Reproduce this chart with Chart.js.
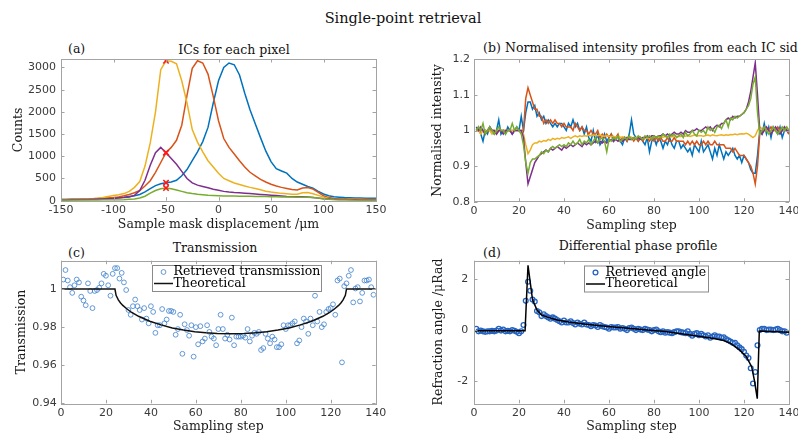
<!DOCTYPE html>
<html>
<head>
<meta charset="utf-8">
<script src="https://cdn.jsdelivr.net/npm/chart.js@4"></script>
<style>
  body { margin: 0; background: #fff; }
  #fig { position: relative; width: 798px; height: 433px; overflow: hidden; background: #fff; }
  #fig canvas { position: absolute; }
  .txt { position: absolute; font-family: "DejaVu Serif", serif; font-size: 12.5px; color: #111; white-space: nowrap; line-height: 1; }
  .c { transform: translate(-50%, -50%); }
  .l { transform: translateY(-50%); }
</style>
</head>
<body>
<div id="fig">
  <div class="txt c" style="left:403px;top:18px;font-size:14.5px">Single-point retrieval</div>
  <div class="txt l" style="left:68px;top:49px">(a)</div>
  <div class="txt c" style="left:234px;top:50px">ICs for each pixel</div>
  <div class="txt l" style="left:483px;top:48px">(b)</div>
  <div class="txt l" style="left:505px;top:48px">Normalised intensity profiles from each IC side</div>
  <div class="txt l" style="left:68px;top:253px">(c)</div>
  <div class="txt c" style="left:215px;top:248px">Transmission</div>
  <div class="txt l" style="left:483px;top:253px">(d)</div>
  <div class="txt c" style="left:638px;top:246px">Differential phase profile</div>

  <canvas id="chA" width="400" height="202" style="left:0;top:30px"></canvas>
  <canvas id="chB" width="398" height="202" style="left:400px;top:30px"></canvas>
  <canvas id="chC" width="400" height="201" style="left:0;top:232px"></canvas>
  <canvas id="chD" width="398" height="201" style="left:400px;top:232px"></canvas>
</div>

<script>
// ---- (a) ICs for each pixel ----
const dispX = [-150,-145,-140,-135,-130,-125,-120,-115,-110,-105,-100,-95,-90,-85,-80,-75,-70,-65,-60,-55,
  -50,-45,-40,-35,-30,-25,-20,-15,-10,-5,0,5,10,15,20,25,30,35,40,45,50,55,60,65,70,75,80,85,90,95,
  100,105,110,115,120,125,130,135,140,145,150];
const blueA = [25,27,30,32,35,38,40,45,50,55, 60,70,80,95,110,140,200,270,340,380,
  405,420,460,560,700,900,1100,1330,1650,2200, 2700,3000,3100,3060,2830,2420,2050,1730,1420,1120,
  880,720,670,620,500,420,370,320,280,210, 150,110,90,80,70,65,60,58,55,55, 55];
const orangeA = [25,27,30,32,35,38,42,48,55,62, 70,85,110,140,180,230,330,450,640,860,
  1080,1200,1360,1700,2370,2980,3150,3100,2850,2350, 1800,1400,1200,1050,900,760,640,560,480,420,
  370,330,300,275,250,240,285,295,260,190, 110,70,50,45,42,40,38,37,36,35, 35];
const yellowA = [20,22,25,28,32,38,45,55,70,95, 115,135,160,210,300,430,780,1300,2000,2950,
  3150,3140,3080,2700,2200,1600,1320,1100,900,760, 620,500,450,400,365,330,300,275,245,215,
  195,180,165,155,145,145,180,185,155,120, 80,50,40,35,30,28,25,25,22,22, 20];
const purpleA = [15,17,20,22,25,28,32,36,40,45, 50,60,70,85,120,230,460,800,1080,1200,
  1080,950,820,660,500,400,350,320,290,260, 235,210,195,185,178,170,160,150,140,132,
  125,115,105,95,90,88,88,85,72,58, 45,38,32,28,25,22,20,18,17,16, 15];
const greenA = [8,8,9,9,10,10,11,12,13,14, 15,18,22,30,40,60,100,170,230,270,
  285,270,240,210,180,160,145,135,125,118, 112,108,105,103,100,99,98,97,95,93,
  90,88,86,85,83,80,78,75,70,60, 45,30,22,18,15,13,12,11,10,10, 10];
const peakX = [-50, -50, -50, -50, -50];
const peakY = [3150, 1080, 405, 1080, 285];
const ticksAX = [-150, -100, -50, 0, 50, 100, 150];
const ticksAY = [0, 500, 1000, 1500, 2000, 2500, 3000];

// ---- (b) normalised intensity, sampling steps 1..140 ----
const blueB = [1.00,1.01,0.99,0.97,1.00,0.99,1.01,1.00,0.99,1.00, 1.03,0.99,1.00,0.99,1.01,1.00,0.99,1.00,1.01,1.00,
  1.04,1.00,1.05,1.08,1.08,1.06,1.07,1.04,1.05,1.03, 1.04,1.02,1.03,1.02,1.01,1.02,1.01,1.02,1.02,1.01,
  1.00,1.02,1.01,1.03,1.01,1.02,1.00,1.01,0.99,1.01, 0.98,0.97,1.00,0.97,0.99,0.96,0.97,0.99,0.97,0.98,
  0.99,0.97,0.98,0.98,0.97,0.96,0.98,0.97,0.99,1.03, 0.99,0.98,0.97,0.98,0.97,0.96,0.98,0.94,0.97,0.98,
  0.96,0.98,0.97,0.95,0.97,0.96,0.98,0.96,0.95,0.97, 0.97,0.95,0.96,0.95,0.94,0.95,0.93,0.96,0.95,0.94,
  0.97,0.94,0.95,0.96,0.94,0.92,0.95,0.93,0.96,0.94, 0.92,0.94,0.93,0.94,0.95,0.93,0.92,0.93,0.91,0.93,
  0.92,0.91,0.89,0.88,0.88,0.93,1.00,0.99,1.02,0.99, 1.01,0.98,1.01,1.00,0.99,1.01,0.98,1.00,1.00,0.99];
const orangeB = [1.00,1.00,1.00,1.00,0.99,1.00,1.00,1.00,1.00,0.99, 1.00,1.00,1.00,1.00,1.00,1.00,1.00,1.00,1.00,1.00,
  1.00,1.00,1.09,1.12,1.10,1.08,1.06,1.06,1.04,1.04, 1.02,1.03,1.02,1.03,1.02,1.03,1.02,1.02,1.01,1.02,
  1.01,1.01,1.01,1.00,1.02,1.01,1.00,1.01,1.00,1.00, 0.99,1.00,0.99,0.99,1.00,0.98,0.99,0.98,0.99,0.98,
  0.99,0.98,0.98,0.99,0.97,0.98,0.98,0.97,0.98,0.98, 0.97,0.98,0.97,0.98,0.97,0.98,0.98,0.97,0.98,0.97,
  0.98,0.97,0.98,0.97,0.97,0.98,0.97,0.97,0.98,0.97, 0.97,0.97,0.97,0.96,0.97,0.96,0.97,0.96,0.97,0.96,
  0.96,0.97,0.96,0.97,0.96,0.96,0.97,0.96,0.96,0.96, 0.96,0.95,0.95,0.95,0.94,0.95,0.94,0.93,0.93,0.93,
  0.92,0.91,0.90,0.88,0.85,0.90,0.99,1.00,1.01,1.00, 1.00,1.01,1.00,1.00,1.01,1.00,1.00,1.01,1.00,0.99];
const yellowB = [1.00,1.00,0.99,1.00,1.00,1.00,1.00,0.99,1.00,1.00, 1.00,1.00,1.00,1.00,1.00,1.00,1.00,1.00,1.00,1.00,
  1.00,0.99,0.96,0.935,0.945,0.96,0.965,0.965,0.97,0.968, 0.972,0.97,0.975,0.972,0.978,0.975,0.978,0.976,0.98,0.978,
  0.98,0.982,0.978,0.982,0.985,0.982,0.985,0.983,0.986,0.984, 0.987,0.985,0.988,0.986,0.985,0.987,0.985,0.984,0.986,0.984,
  0.983,0.984,0.982,0.983,0.981,0.982,0.98,0.981,0.979,0.98, 0.979,0.98,0.978,0.979,0.978,0.979,0.978,0.98,0.979,0.98,
  0.981,0.98,0.982,0.981,0.983,0.982,0.984,0.982,0.985,0.983, 0.984,0.983,0.985,0.984,0.986,0.983,0.985,0.987,0.984,0.986,
  0.985,0.984,0.986,0.987,0.985,0.988,0.986,0.985,0.987,0.988, 0.986,0.988,0.987,0.989,0.988,0.99,0.988,0.99,0.991,0.99,
  0.992,0.99,0.985,0.98,0.985,1.00,1.01,1.005,1.00,1.00, 1.00,1.00,1.005,1.00,1.00,1.00,1.00,1.005,1.00,1.00];
const purpleB = [1.01,1.00,1.01,1.00,0.99,1.00,1.01,1.00,1.00,0.99, 1.00,1.00,0.99,1.00,1.00,1.00,0.99,1.00,1.00,1.00,
  1.00,0.98,0.91,0.85,0.87,0.89,0.91,0.92,0.93,0.935, 0.94,0.945,0.94,0.95,0.945,0.95,0.955,0.95,0.945,0.955,
  0.95,0.955,0.96,0.955,0.96,0.965,0.96,0.955,0.965,0.96, 0.965,0.96,0.965,0.97,0.965,0.97,0.965,0.97,0.965,0.97,
  0.975,0.97,0.975,0.97,0.975,0.97,0.975,0.98,0.975,0.975, 0.98,0.975,0.98,0.975,0.98,0.98,0.985,0.98,0.985,0.985,
  0.98,0.985,0.985,0.99,0.985,0.99,0.985,0.99,0.995,0.99, 0.99,0.995,0.99,1.00,0.995,0.995,1.00,1.00,1.005,1.00,
  1.00,1.005,1.01,1.005,1.01,1.00,1.01,1.015,1.01,1.02, 1.02,1.03,1.035,1.03,1.04,1.035,1.04,1.04,1.045,1.05,
  1.06,1.08,1.11,1.15,1.19,1.10,1.00,0.99,1.00,1.01, 1.00,0.99,1.00,1.01,1.00,0.99,1.00,1.01,1.00,1.00];
const greenB = [1.00,1.01,1.00,1.02,0.99,1.00,1.01,1.00,0.99,1.00, 1.01,1.00,1.00,0.99,1.00,1.00,1.02,1.00,1.01,1.00,
  0.99,0.96,0.91,0.88,0.91,0.92,0.92,0.925,0.93,0.94, 0.935,0.945,0.94,0.95,0.955,0.95,0.955,0.96,0.955,0.96,
  0.955,0.965,0.96,0.97,0.96,0.965,0.975,0.96,0.97,0.965, 0.975,0.96,0.97,0.98,0.965,0.975,0.98,0.97,0.94,0.975,
  0.97,0.98,0.975,0.985,0.97,0.975,0.98,0.975,0.985,0.975, 0.98,0.975,0.985,0.98,0.975,0.985,0.98,0.985,0.975,0.985,
  0.98,0.985,0.98,0.99,0.985,0.98,0.99,0.985,0.99,0.98, 0.985,0.99,0.98,0.995,0.985,0.99,1.00,0.99,0.985,1.00,
  0.995,1.00,0.99,1.01,1.00,1.005,0.995,1.01,1.015,1.005, 1.02,1.03,1.01,1.035,1.03,1.04,1.035,1.04,1.045,1.05,
  1.06,1.07,1.09,1.13,1.15,1.05,0.99,1.00,1.01,1.00, 0.99,1.00,1.01,1.00,0.99,1.00,1.01,1.00,1.01,1.00];
const ticksStep = [0, 20, 40, 60, 80, 100, 120, 140];
const ticksBY = [0.8, 0.9, 1, 1.1, 1.2];

// ---- (c) transmission, sampling steps 1..139 ----
const transMeas = [1.005,1.010,1.0045,1.001,0.998,1.002,1.005,1.0035,0.996,0.994,
  0.9915,1.003,0.999,0.990,0.999,0.9995,1.0007,1.003,1.008,1.007,
  1.002,0.9965,1.008,1.011,1.011,1.0055,1.0085,1.0035,0.9995,0.989,
  0.9865,0.991,0.9945,0.991,0.989,0.984,0.990,0.9845,0.982,0.991,
  0.988,0.977,0.981,0.981,0.9895,0.982,0.984,0.9885,0.9885,0.988,
  0.976,0.979,0.9865,0.966,0.9815,0.9785,0.9755,0.981,0.9645,0.980,
  0.971,0.9805,0.9725,0.974,0.981,0.9775,0.975,0.974,0.9705,0.979,
  0.9865,0.979,0.974,0.976,0.9735,0.985,0.9705,0.975,0.975,0.975,
  0.9755,0.9745,0.979,0.9725,0.9755,0.977,0.9765,0.9775,0.968,0.969,
  0.9765,0.974,0.9715,0.975,0.9735,0.9695,0.9695,0.971,0.981,0.979,
  0.981,0.981,0.982,0.983,0.9715,0.973,0.980,0.9845,0.983,0.9765,
  0.9845,0.981,0.9965,0.983,0.988,0.980,0.9815,0.988,0.9895,0.990,
  0.992,0.9865,1.0045,1.0055,0.9615,1.0015,1.003,1.007,1.010,0.993,
  1.0003,1.001,0.9935,0.998,1.0045,1.0045,1.005,1.001,0.997];
const transThX = [0,24,24.5,25.5,26.5,27.5,29.5,31.5,34.5,39.5,44.5,49.5,54.5,59.5,64.5,69.5,75.5,
  81.5,86.5,91.5,96.5,101.5,106.5,111.5,116.5,119.5,121.5,123.5,124.5,125.5,126.5,127,140];
const transThY = [1,1,0.9967,0.9943,0.9927,0.9914,0.9894,0.9877,0.9857,0.9831,0.9812,0.9796,0.9785,0.9776,0.977,0.9766,0.9765,
  0.9766,0.977,0.9776,0.9785,0.9796,0.9812,0.9831,0.9857,0.9877,0.9894,0.9914,0.9927,0.9943,0.9967,1,1];
const ticksCY = [0.94, 0.96, 0.98, 1];

// ---- (d) differential phase, sampling steps 1..139 ----
const angleMeas = [0.05,-0.05,-0.02,-0.05,-0.07,-0.05,-0.05,-0.03,-0.05,-0.02,
  0.05,-0.02,0.02,-0.05,-0.03,-0.05,0.0,-0.03,-0.07,-0.12,
  -0.05,0.2,1.15,1.9,1.55,1.2,1.12,0.75,0.7,0.55,
  0.62,0.55,0.5,0.45,0.5,0.45,0.4,0.35,0.3,0.38,
  0.3,0.3,0.35,0.28,0.22,0.3,0.25,0.22,0.3,0.22,
  0.2,0.15,0.2,0.18,0.12,0.2,0.15,0.12,0.1,0.05,
  0.12,0.1,0.1,0.12,0.05,0.08,0.05,0.0,0.08,0.1,
  0.05,0.0,0.05,0.02,0.0,0.05,0.02,0.0,-0.05,0.0,
  0.02,-0.05,-0.08,-0.05,-0.1,-0.08,-0.1,-0.12,-0.08,-0.05,
  -0.05,-0.08,-0.1,-0.12,-0.05,-0.15,-0.22,-0.15,-0.12,-0.2,
  -0.15,-0.2,-0.25,-0.2,-0.3,-0.25,-0.2,-0.25,-0.25,-0.3,
  -0.28,-0.35,-0.4,-0.45,-0.5,-0.5,-0.6,-0.68,-0.75,-0.85,
  -1.0,-1.1,-1.5,-2.1,-1.65,-0.6,0.0,0.05,0.05,0.0,
  0.02,0.02,0.0,0.02,0.05,0.0,-0.05,-0.05,-0.1];
const angleThX = [0,22.7,24,26,28,30,33,37,42,48,55,62,70,77,85,96,106,111,114,118,121,123.4,124.6,125.9,126.8,140];
const angleThY = [-0.03,-0.03,2.55,1.2,0.79,0.6,0.5,0.4,0.32,0.25,0.18,0.12,0.06,0.0,-0.06,-0.19,-0.32,-0.41,-0.52,-0.78,-1.04,-1.44,-1.97,-2.7,-0.04,-0.08];
const ticksDY = [-2, 0, 2];

// ---- helpers ----
const C = { blue: '#0072BD', orange: '#D95319', yellow: '#EDB120', purple: '#7E2F8E', green: '#77AC30' };
const frameColor = '#a3a3a3';
const tickColor = '#3a3a3a';
const serif = '"DejaVu Serif", serif';

Chart.defaults.font.family = '"DejaVu Sans", sans-serif';
Chart.defaults.font.size = 11;
Chart.defaults.color = tickColor;
Chart.defaults.animation = false;

const xy = (xs, ys) => ys.map((y, i) => ({ x: xs[i], y }));
const stepsOf = arr => arr.map((_, i) => i + 1);

// MATLAB-like box with inward ticks on all four sides
const matlabBox = {
  id: 'matlabBox',
  afterDatasetsDraw(chart) {
    const { ctx, chartArea: a, scales: { x, y } } = chart;
    const L = 3.5;
    ctx.save();
    ctx.strokeStyle = frameColor;
    ctx.lineWidth = 1;
    ctx.beginPath();
    x.ticks.forEach(t => {
      const p = Math.round(x.getPixelForValue(t.value)) + 0.5;
      ctx.moveTo(p, a.bottom); ctx.lineTo(p, a.bottom - L);
      ctx.moveTo(p, a.top); ctx.lineTo(p, a.top + L);
    });
    y.ticks.forEach(t => {
      const p = Math.round(y.getPixelForValue(t.value)) + 0.5;
      ctx.moveTo(a.left, p); ctx.lineTo(a.left + L, p);
      ctx.moveTo(a.right, p); ctx.lineTo(a.right - L, p);
    });
    ctx.stroke();
    ctx.strokeRect(Math.round(a.left) + 0.5, Math.round(a.top) + 0.5,
      Math.round(a.right - a.left), Math.round(a.bottom - a.top));
    ctx.restore();
  }
};

// boxed legend inside the plot (c, d)
const boxLegend = {
  id: 'boxLegend',
  afterDraw(chart, args, o) {
    if (!o || !o.box) return;
    const { ctx } = chart;
    const [bx, by, bw, bh] = o.box;
    ctx.save();
    ctx.fillStyle = '#fff';
    ctx.fillRect(bx, by, bw, bh);
    ctx.strokeStyle = '#8a8a8a';
    ctx.lineWidth = 1;
    ctx.strokeRect(bx + 0.5, by + 0.5, bw, bh);
    ctx.font = o.font;
    ctx.textBaseline = 'middle';
    chart.data.datasets.forEach((ds, i) => {
      const cy = by + o.rows[i];
      if (ds.showLine === false) {
        ctx.beginPath();
        ctx.strokeStyle = ds.borderColor;
        ctx.lineWidth = ds.borderWidth;
        ctx.arc(bx + 11.5, cy, ds.pointRadius, 0, Math.PI * 2);
        ctx.stroke();
      } else {
        ctx.beginPath();
        ctx.strokeStyle = ds.borderColor;
        ctx.lineWidth = ds.borderWidth;
        ctx.moveTo(bx + 2, cy); ctx.lineTo(bx + 21, cy);
        ctx.stroke();
      }
      ctx.fillStyle = '#000';
      ctx.fillText(ds.label, bx + 21.5, cy);
    });
    ctx.restore();
  }
};

function axes(o) {
  const titleFont = { family: serif, size: 12.5, lineHeight: 1 };
  return {
    x: {
      type: 'linear', min: o.xMin, max: o.xMax,
      grid: { display: false, drawTicks: false }, border: { display: false },
      ticks: { padding: 3, autoSkip: false, maxRotation: 0, callback: v => String(v) },
      afterBuildTicks: s => { s.ticks = o.xTicks.map(v => ({ value: v })); },
      afterFit: s => { s.height = o.xH; s.paddingLeft = 0; s.paddingRight = 0; },
      title: { display: true, text: o.xTitle, font: titleFont, color: '#1a1a1a', padding: { top: 0, bottom: o.xTitlePad } }
    },
    y: {
      type: 'linear', min: o.yMin, max: o.yMax,
      grid: { display: false, drawTicks: false }, border: { display: false },
      ticks: { padding: o.yPad, autoSkip: false, callback: v => String(v) },
      afterBuildTicks: s => { s.ticks = o.yTicks.map(v => ({ value: v })); },
      afterFit: s => { s.width = o.yW; s.paddingTop = 0; s.paddingBottom = 0; },
      title: { display: true, text: o.yTitle, font: titleFont, color: '#1a1a1a', padding: { top: o.yTitlePad, bottom: 0 } }
    }
  };
}

const lineDs = (label, data, color, order) => ({
  label, data, borderColor: color, backgroundColor: color, borderWidth: 1.5,
  showLine: true, pointRadius: 0, fill: false, order
});

function baseOptions(pad, scales, extra) {
  return {
    responsive: false,
    layout: { padding: { left: 0, top: pad.top, right: pad.right, bottom: 0 } },
    plugins: Object.assign({ legend: { display: false }, tooltip: { enabled: false } }, extra || {}),
    scales
  };
}

// (a)
new Chart(document.getElementById('chA'), {
  type: 'scatter',
  data: {
    datasets: [
      { label: 'peak', data: xy(peakX, peakY), pointStyle: 'crossRot', pointRadius: 3.8,
        borderColor: '#ff1a1a', borderWidth: 1.6, showLine: false, order: 0 },
      lineDs('IC 5', xy(dispX, greenA), C.green, 1),
      lineDs('IC 4', xy(dispX, purpleA), C.purple, 2),
      lineDs('IC 3', xy(dispX, yellowA), C.yellow, 3),
      lineDs('IC 2', xy(dispX, orangeA), C.orange, 4),
      lineDs('IC 1', xy(dispX, blueA), C.blue, 5)
    ]
  },
  options: baseOptions({ top: 29, right: 24 }, axes({
    xMin: -150, xMax: 150, xTicks: ticksAX, xH: 31.3, xTitle: 'Sample mask displacement /\u03bcm', xTitlePad: 1.5,
    yMin: 0, yMax: 3190, yTicks: ticksAY, yW: 61, yPad: 5, yTitle: 'Counts', yTitlePad: 12.5
  })),
  plugins: [matlabBox]
});

// (b)
const stepsB = stepsOf(blueB);
new Chart(document.getElementById('chB'), {
  type: 'scatter',
  data: {
    datasets: [
      lineDs('IC 5', xy(stepsB, greenB), C.green, 1),
      lineDs('IC 4', xy(stepsB, purpleB), C.purple, 2),
      lineDs('IC 3', xy(stepsB, yellowB), C.yellow, 3),
      lineDs('IC 2', xy(stepsB, orangeB), C.orange, 4),
      lineDs('IC 1', xy(stepsB, blueB), C.blue, 5)
    ]
  },
  options: baseOptions({ top: 29.3, right: 9 }, axes({
    xMin: 0, xMax: 140, xTicks: ticksStep, xH: 30.3, xTitle: 'Sampling step', xTitlePad: 0.5,
    yMin: 0.8, yMax: 1.2, yTicks: ticksBY, yW: 74, yPad: 4, yTitle: 'Normalised intensity', yTitlePad: 31.5
  })),
  plugins: [matlabBox]
});

// (c)
new Chart(document.getElementById('chC'), {
  type: 'scatter',
  data: {
    datasets: [
      { label: 'Retrieved transmission', data: xy(stepsOf(transMeas), transMeas), showLine: false,
        pointStyle: 'circle', pointRadius: 2.4, borderColor: '#3f80cc', backgroundColor: 'rgba(0,0,0,0)', borderWidth: 0.8 },
      lineDs('Theoretical', xy(transThX, transThY), '#111', -1)
    ]
  },
  options: baseOptions({ top: 28.7, right: 24.3 }, axes({
    xMin: 0, xMax: 140, xTicks: ticksStep, xH: 29.7, xTitle: 'Sampling step', xTitlePad: 0,
    yMin: 0.94, yMax: 1.0149, yTicks: ticksCY, yW: 61, yPad: 4.3, yTitle: 'Transmission', yTitlePad: 15.5
  }), { boxLegend: { box: [152, 33, 169, 26], rows: [7, 18.5], font: '12.5px ' + serif } }),
  plugins: [matlabBox, boxLegend]
});

// (d)
new Chart(document.getElementById('chD'), {
  type: 'scatter',
  data: {
    datasets: [
      { label: 'Retrieved angle', data: xy(stepsOf(angleMeas), angleMeas), showLine: false,
        pointStyle: 'circle', pointRadius: 2.4, borderColor: '#2563c0', backgroundColor: 'rgba(0,0,0,0)', borderWidth: 1.3 },
      lineDs('Theoretical', xy(angleThX, angleThY), '#000', -1)
    ]
  },
  options: baseOptions({ top: 28.7, right: 9 }, axes({
    xMin: 0, xMax: 140, xTicks: ticksStep, xH: 29.7, xTitle: 'Sampling step', xTitlePad: 0,
    yMin: -2.88, yMax: 2.73, yTicks: ticksDY, yW: 74, yPad: 5.7, yTitle: 'Refraction angle /\u03bcRad', yTitlePad: 32.5
  }), { boxLegend: { box: [184, 33.5, 124, 26], rows: [7, 18.5], font: '12.5px ' + serif } }),
  plugins: [matlabBox, boxLegend]
});
</script>
</body>
</html>
